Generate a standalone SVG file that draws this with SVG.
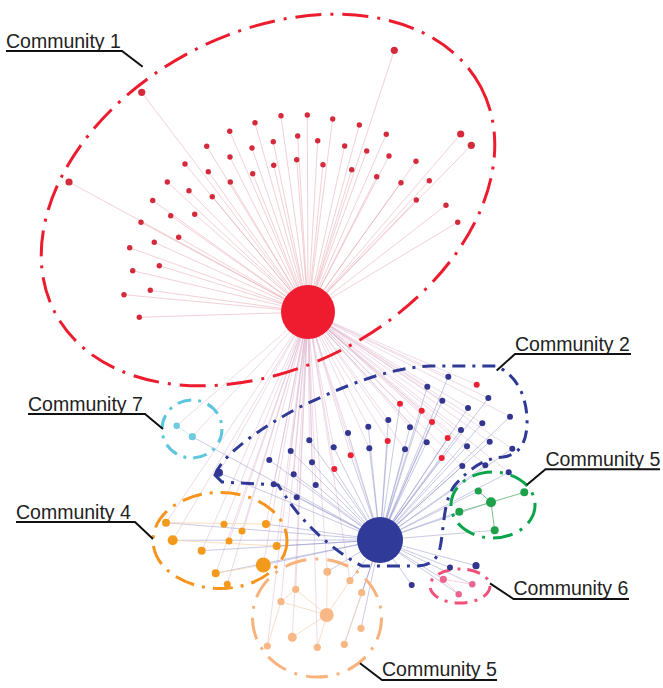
<svg xmlns="http://www.w3.org/2000/svg" width="663" height="688" viewBox="0 0 663 688">
<style>
.e1{stroke:#e9a7b0;stroke-width:0.8;opacity:0.65}
.e2{stroke:#d8a6c4;stroke-width:0.8;opacity:0.5}
.e3{stroke:#8e90c9;stroke-width:0.8;opacity:0.6}
.eg{stroke:#7cc08f;stroke-width:1}
.ep{stroke:#f6d6bd;stroke-width:0.8}
.eo{stroke:#f7d7b0;stroke-width:0.8}
.r{fill:#d42a3c}
.rb{fill:#ec2232}
.b{fill:#33368f}
.g{fill:#1fa14c}
.pk{fill:#e9668e}
.cy{fill:#6fcadf}
.o{fill:#f39a1d}
.pe{fill:#f8b886}
.hull{fill:none;stroke-width:3}
.lbl{font-family:"Liberation Sans",Arial,sans-serif;font-size:19.5px;fill:#222}
.ul{stroke:#111;stroke-width:2;fill:none}
</style>
<rect width="663" height="688" fill="#ffffff"/>
<g id="connectors">
<g id="edges-c1">
<line class="e1" x1="308" y1="312" x2="141.7" y2="92.3"/><line class="e1" x1="308" y1="312" x2="394.3" y2="50.3"/><line class="e1" x1="308" y1="312" x2="69" y2="182"/><line class="e1" x1="308" y1="312" x2="460.7" y2="134"/><line class="e1" x1="308" y1="312" x2="471.3" y2="145.3"/>
<line class="e1" x1="308" y1="312" x2="255" y2="122.7"/><line class="e1" x1="308" y1="312" x2="281" y2="115.7"/><line class="e1" x1="308" y1="312" x2="307.3" y2="115"/><line class="e1" x1="308" y1="312" x2="332.7" y2="119"/><line class="e1" x1="308" y1="312" x2="359.3" y2="125"/><line class="e1" x1="308" y1="312" x2="386.3" y2="134.3"/>
<line class="e1" x1="308" y1="312" x2="229.7" y2="131.3"/><line class="e1" x1="308" y1="312" x2="206.7" y2="146.3"/><line class="e1" x1="308" y1="312" x2="185" y2="164"/><line class="e1" x1="308" y1="312" x2="167.3" y2="182"/><line class="e1" x1="308" y1="312" x2="152.7" y2="200.5"/><line class="e1" x1="308" y1="312" x2="141" y2="222.3"/><line class="e1" x1="308" y1="312" x2="129.7" y2="247.7"/><line class="e1" x1="308" y1="312" x2="132.7" y2="270.7"/><line class="e1" x1="308" y1="312" x2="124" y2="294.7"/><line class="e1" x1="308" y1="312" x2="139.3" y2="317.3"/>
<line class="e1" x1="308" y1="312" x2="273.3" y2="141.7"/><line class="e1" x1="308" y1="312" x2="297.7" y2="136"/><line class="e1" x1="308" y1="312" x2="317.7" y2="140.7"/><line class="e1" x1="308" y1="312" x2="344.7" y2="146"/><line class="e1" x1="308" y1="312" x2="366.7" y2="151"/><line class="e1" x1="308" y1="312" x2="389" y2="156"/><line class="e1" x1="308" y1="312" x2="416" y2="161.3"/><line class="e1" x1="308" y1="312" x2="429.3" y2="180.7"/><line class="e1" x1="308" y1="312" x2="446" y2="205.3"/><line class="e1" x1="308" y1="312" x2="457.7" y2="222.3"/>
<line class="e1" x1="308" y1="312" x2="252" y2="148"/><line class="e1" x1="308" y1="312" x2="230" y2="157"/><line class="e1" x1="308" y1="312" x2="208.3" y2="171.7"/><line class="e1" x1="308" y1="312" x2="189" y2="190.7"/><line class="e1" x1="308" y1="312" x2="170.7" y2="215.7"/><line class="e1" x1="308" y1="312" x2="154.3" y2="242.3"/><line class="e1" x1="308" y1="312" x2="159.3" y2="265.7"/><line class="e1" x1="308" y1="312" x2="150.3" y2="290.3"/>
<line class="e1" x1="308" y1="312" x2="252.7" y2="173.7"/><line class="e1" x1="308" y1="312" x2="273.7" y2="165.3"/><line class="e1" x1="308" y1="312" x2="296.7" y2="159.7"/><line class="e1" x1="308" y1="312" x2="323" y2="164.7"/><line class="e1" x1="308" y1="312" x2="351.7" y2="169.7"/><line class="e1" x1="308" y1="312" x2="376.7" y2="176.7"/><line class="e1" x1="308" y1="312" x2="401" y2="182.7"/><line class="e1" x1="308" y1="312" x2="416.3" y2="200"/>
<line class="e1" x1="308" y1="312" x2="230.3" y2="182"/><line class="e1" x1="308" y1="312" x2="212.3" y2="196.7"/><line class="e1" x1="308" y1="312" x2="194.7" y2="214.3"/><line class="e1" x1="308" y1="312" x2="178.7" y2="237.3"/>
</g>
<g id="edges-red-hub-lower">
<line class="e2" x1="308" y1="312" x2="219" y2="472.7"/><line class="e2" x1="308" y1="312" x2="269.3" y2="460"/><line class="e2" x1="308" y1="312" x2="290.7" y2="451"/><line class="e2" x1="308" y1="312" x2="309.3" y2="440.3"/><line class="e2" x1="308" y1="312" x2="312" y2="462.3"/><line class="e2" x1="308" y1="312" x2="293.7" y2="474.3"/><line class="e2" x1="308" y1="312" x2="273.7" y2="484.3"/><line class="e2" x1="308" y1="312" x2="315.7" y2="485"/><line class="e2" x1="308" y1="312" x2="296.7" y2="497.3"/><line class="e2" x1="308" y1="312" x2="333.7" y2="447.3"/><line class="e2" x1="308" y1="312" x2="348" y2="433"/>
<line class="e2" x1="308" y1="312" x2="448.3" y2="376.7"/><line class="e2" x1="308" y1="312" x2="427.3" y2="386.7"/><line class="e2" x1="308" y1="312" x2="442.3" y2="400.7"/><line class="e2" x1="308" y1="312" x2="488.3" y2="398"/><line class="e2" x1="308" y1="312" x2="468" y2="408"/><line class="e2" x1="308" y1="312" x2="510" y2="416.7"/><line class="e2" x1="308" y1="312" x2="482.3" y2="423.3"/><line class="e2" x1="308" y1="312" x2="388.3" y2="420"/><line class="e2" x1="308" y1="312" x2="368.3" y2="426.7"/><line class="e2" x1="308" y1="312" x2="410" y2="427.3"/><line class="e2" x1="308" y1="312" x2="461" y2="430"/><line class="e2" x1="308" y1="312" x2="426.7" y2="442.3"/><line class="e2" x1="308" y1="312" x2="489.7" y2="441.7"/><line class="e2" x1="308" y1="312" x2="369.3" y2="448.3"/><line class="e2" x1="308" y1="312" x2="405" y2="449.3"/><line class="e2" x1="308" y1="312" x2="467" y2="446.3"/><line class="e2" x1="308" y1="312" x2="512.3" y2="448.7"/><line class="e2" x1="308" y1="312" x2="462.3" y2="466"/><line class="e2" x1="308" y1="312" x2="485.3" y2="465.3"/><line class="e2" x1="308" y1="312" x2="508.7" y2="472.3"/>
<line class="e2" x1="308" y1="312" x2="350.7" y2="455.3"/><line class="e2" x1="308" y1="312" x2="334.3" y2="469"/><line class="e2" x1="308" y1="312" x2="476.7" y2="384.7"/><line class="e2" x1="308" y1="312" x2="400" y2="403.7"/><line class="e2" x1="308" y1="312" x2="421.7" y2="410.7"/><line class="e2" x1="308" y1="312" x2="432" y2="422"/><line class="e2" x1="308" y1="312" x2="387.7" y2="441"/><line class="e2" x1="308" y1="312" x2="447.7" y2="438"/><line class="e2" x1="308" y1="312" x2="441.7" y2="458"/>
<line class="e2" x1="308" y1="312" x2="176.7" y2="425.7"/><line class="e2" x1="308" y1="312" x2="192.3" y2="436.7"/>
<line class="e2" x1="308" y1="312" x2="166" y2="522.7"/><line class="e2" x1="308" y1="312" x2="172.7" y2="540.3"/><line class="e2" x1="308" y1="312" x2="201.7" y2="550.7"/><line class="e2" x1="308" y1="312" x2="224" y2="524.3"/><line class="e2" x1="308" y1="312" x2="242" y2="531"/><line class="e2" x1="308" y1="312" x2="229" y2="541"/><line class="e2" x1="308" y1="312" x2="266" y2="524"/><line class="e2" x1="308" y1="312" x2="276.7" y2="546"/><line class="e2" x1="308" y1="312" x2="263.3" y2="565"/><line class="e2" x1="308" y1="312" x2="215.7" y2="573.3"/><line class="e2" x1="308" y1="312" x2="227.3" y2="584.3"/>
<line class="e2" x1="308" y1="312" x2="327.3" y2="571.7"/><line class="e2" x1="308" y1="312" x2="350" y2="580.7"/><line class="e2" x1="308" y1="312" x2="295.7" y2="589.3"/><line class="e2" x1="308" y1="312" x2="281" y2="601.7"/><line class="e2" x1="308" y1="312" x2="292.3" y2="637.3"/><line class="e2" x1="308" y1="312" x2="267.3" y2="646"/><line class="e2" x1="308" y1="312" x2="317.3" y2="647.3"/><line class="e2" x1="308" y1="312" x2="380" y2="540"/>
</g>
<g id="edges-blue-hub">
<line class="e3" x1="380" y1="540" x2="219" y2="472.7"/><line class="e3" x1="380" y1="540" x2="269.3" y2="460"/><line class="e3" x1="380" y1="540" x2="290.7" y2="451"/><line class="e3" x1="380" y1="540" x2="309.3" y2="440.3"/><line class="e3" x1="380" y1="540" x2="312" y2="462.3"/><line class="e3" x1="380" y1="540" x2="293.7" y2="474.3"/><line class="e3" x1="380" y1="540" x2="273.7" y2="484.3"/><line class="e3" x1="380" y1="540" x2="315.7" y2="485"/><line class="e3" x1="380" y1="540" x2="296.7" y2="497.3"/><line class="e3" x1="380" y1="540" x2="333.7" y2="447.3"/><line class="e3" x1="380" y1="540" x2="348" y2="433"/>
<line class="e3" x1="380" y1="540" x2="448.3" y2="376.7"/><line class="e3" x1="380" y1="540" x2="427.3" y2="386.7"/><line class="e3" x1="380" y1="540" x2="442.3" y2="400.7"/><line class="e3" x1="380" y1="540" x2="488.3" y2="398"/><line class="e3" x1="380" y1="540" x2="468" y2="408"/><line class="e3" x1="380" y1="540" x2="510" y2="416.7"/><line class="e3" x1="380" y1="540" x2="482.3" y2="423.3"/><line class="e3" x1="380" y1="540" x2="388.3" y2="420"/><line class="e3" x1="380" y1="540" x2="368.3" y2="426.7"/><line class="e3" x1="380" y1="540" x2="410" y2="427.3"/><line class="e3" x1="380" y1="540" x2="461" y2="430"/><line class="e3" x1="380" y1="540" x2="426.7" y2="442.3"/><line class="e3" x1="380" y1="540" x2="489.7" y2="441.7"/><line class="e3" x1="380" y1="540" x2="369.3" y2="448.3"/><line class="e3" x1="380" y1="540" x2="405" y2="449.3"/><line class="e3" x1="380" y1="540" x2="467" y2="446.3"/><line class="e3" x1="380" y1="540" x2="512.3" y2="448.7"/><line class="e3" x1="380" y1="540" x2="462.3" y2="466"/><line class="e3" x1="380" y1="540" x2="485.3" y2="465.3"/><line class="e3" x1="380" y1="540" x2="508.7" y2="472.3"/>
<line class="e3" x1="380" y1="540" x2="350.7" y2="455.3"/><line class="e3" x1="380" y1="540" x2="334.3" y2="469"/><line class="e3" x1="380" y1="540" x2="400" y2="403.7"/><line class="e3" x1="380" y1="540" x2="421.7" y2="410.7"/><line class="e3" x1="380" y1="540" x2="432" y2="422"/><line class="e3" x1="380" y1="540" x2="387.7" y2="441"/><line class="e3" x1="380" y1="540" x2="447.7" y2="438"/><line class="e3" x1="380" y1="540" x2="441.7" y2="458"/>
<line class="e3" x1="380" y1="540" x2="450" y2="567.5"/><line class="e3" x1="380" y1="540" x2="476" y2="565.7"/><line class="e3" x1="380" y1="540" x2="411.7" y2="585"/>
<line class="e3" x1="380" y1="540" x2="478.3" y2="491"/><line class="e3" x1="380" y1="540" x2="491" y2="502.3"/><line class="e3" x1="380" y1="540" x2="459.3" y2="511.7"/><line class="e3" x1="380" y1="540" x2="494.7" y2="530.3"/>
<line class="e3" x1="380" y1="540" x2="443.3" y2="579.3"/><line class="e3" x1="380" y1="540" x2="472.3" y2="584.3"/><line class="e3" x1="380" y1="540" x2="458.7" y2="594.3"/>
<line class="e3" x1="380" y1="540" x2="166" y2="522.7"/><line class="e3" x1="380" y1="540" x2="172.7" y2="540.3"/><line class="e3" x1="380" y1="540" x2="201.7" y2="550.7"/><line class="e3" x1="380" y1="540" x2="266" y2="524"/><line class="e3" x1="380" y1="540" x2="276.7" y2="546"/><line class="e3" x1="380" y1="540" x2="263.3" y2="565"/><line class="e3" x1="380" y1="540" x2="215.7" y2="573.3"/>
<line class="e3" x1="380" y1="540" x2="327.3" y2="571.7"/><line class="e3" x1="380" y1="540" x2="350" y2="580.7"/><line class="e3" x1="380" y1="540" x2="361.7" y2="592.7"/><line class="e3" x1="380" y1="540" x2="361" y2="628.3"/><line class="e3" x1="380" y1="540" x2="344.3" y2="644.3"/><line class="e3" x1="380" y1="540" x2="192.3" y2="436.7"/>
</g>
<g id="edges-local">
<line class="eg" x1="478.3" y1="491" x2="491" y2="502.3"/><line class="eg" x1="491" y1="502.3" x2="524.3" y2="492.3"/><line class="eg" x1="459.3" y1="511.7" x2="491" y2="502.3"/><line class="eg" x1="491" y1="502.3" x2="494.7" y2="530.3"/>
<line class="ep" x1="327.3" y1="571.7" x2="326.7" y2="615"/><line class="ep" x1="295.7" y1="589.3" x2="326.7" y2="615"/><line class="ep" x1="281" y1="601.7" x2="326.7" y2="615"/><line class="ep" x1="350" y1="580.7" x2="326.7" y2="615"/><line class="ep" x1="361.7" y1="592.7" x2="344.3" y2="644.3"/><line class="ep" x1="326.7" y1="615" x2="317.3" y2="647.3"/><line class="ep" x1="292.3" y1="637.3" x2="326.7" y2="615"/><line class="ep" x1="267.3" y1="646" x2="281" y2="601.7"/><line class="ep" x1="295.7" y1="589.3" x2="281" y2="601.7"/>
<line class="eo" x1="166" y1="522.7" x2="266" y2="524"/><line class="eo" x1="172.7" y1="540.3" x2="276.7" y2="546"/><line class="eo" x1="215.7" y1="573.3" x2="263.3" y2="565"/>
<line stroke="#bfe6ee" stroke-width="0.9" x1="176.7" y1="425.7" x2="192.3" y2="436.7"/>
<line stroke="#f6c4d2" stroke-width="0.8" x1="443.3" y1="579.3" x2="472.3" y2="584.3"/><line stroke="#f6c4d2" stroke-width="0.8" x1="443.3" y1="579.3" x2="458.7" y2="594.3"/>
</g>
</g>
<g id="hulls">
<ellipse id="hull-c1" class="hull" cx="268" cy="200" rx="241" ry="167" transform="rotate(-28 268 200)" stroke="#ec1c2e" stroke-dasharray="26 9 3 9"/>
<path id="hull-c2" class="hull" stroke="#2e3a96" stroke-dasharray="13 7 3 7" d="M 215,475 C 222,455 260,428 300,407 C 340,388 385,368 430,366 L 496,366 C 515,374 528,395 527,425 C 526,445 518,455 503,457 C 485,458 470,468 455,485 C 443,500 444,530 440,548 C 437,560 430,566 415,566 L 362,566 C 335,552 305,525 288,500 L 278,485 L 222,482 Z"/>
<ellipse id="hull-c7" class="hull" cx="192" cy="429" rx="30" ry="29" stroke="#5cc6de" stroke-width="2.6" stroke-dasharray="14 7 3 7"/>
<ellipse id="hull-c4" class="hull" cx="220" cy="540.5" rx="67" ry="48" stroke="#f7941d" stroke-dasharray="20 8 3 8"/>
<ellipse id="hull-c5b" class="hull" cx="317" cy="618" rx="64.5" ry="59" stroke="#f9b27c" stroke-dasharray="22 9 3 9"/>
<ellipse id="hull-c5g" class="hull" cx="493" cy="505" rx="42" ry="33" stroke="#0aa54a" stroke-dasharray="20 8 3 8"/>
<ellipse id="hull-c6" class="hull" cx="460" cy="586" rx="30" ry="17" stroke="#f0507a" stroke-width="2.6" stroke-dasharray="13 7 3 7"/>
</g>
<g id="community1">
<g id="hub-red"><circle cx="308" cy="312" r="27" fill="#ee1c2e"/></g>
<g id="c1-n01"><circle class="r" cx="141.7" cy="92.3" r="3.6"/></g>
<g id="c1-n02"><circle class="r" cx="394.3" cy="50.3" r="3.6"/></g>
<g id="c1-n03"><circle class="r" cx="69" cy="182" r="3.6"/></g>
<g id="c1-n04"><circle class="r" cx="460.7" cy="134" r="3.6"/></g>
<g id="c1-n05"><circle class="r" cx="471.3" cy="145.3" r="3.6"/></g>
<g id="c1-n06"><circle class="r" cx="255" cy="122.7" r="2.7"/></g>
<g id="c1-n07"><circle class="r" cx="281" cy="115.7" r="2.7"/></g>
<g id="c1-n08"><circle class="r" cx="307.3" cy="115" r="2.7"/></g>
<g id="c1-n09"><circle class="r" cx="332.7" cy="119" r="2.7"/></g>
<g id="c1-n10"><circle class="r" cx="359.3" cy="125" r="2.7"/></g>
<g id="c1-n11"><circle class="r" cx="386.3" cy="134.3" r="2.7"/></g>
<g id="c1-n12"><circle class="r" cx="229.7" cy="131.3" r="2.7"/></g>
<g id="c1-n13"><circle class="r" cx="206.7" cy="146.3" r="2.7"/></g>
<g id="c1-n14"><circle class="r" cx="185" cy="164" r="2.7"/></g>
<g id="c1-n15"><circle class="r" cx="167.3" cy="182" r="2.7"/></g>
<g id="c1-n16"><circle class="r" cx="152.7" cy="200.5" r="2.7"/></g>
<g id="c1-n17"><circle class="r" cx="141" cy="222.3" r="2.7"/></g>
<g id="c1-n18"><circle class="r" cx="129.7" cy="247.7" r="2.7"/></g>
<g id="c1-n19"><circle class="r" cx="132.7" cy="270.7" r="2.7"/></g>
<g id="c1-n20"><circle class="r" cx="124" cy="294.7" r="2.7"/></g>
<g id="c1-n21"><circle class="r" cx="139.3" cy="317.3" r="2.7"/></g>
<g id="c1-n22"><circle class="r" cx="273.3" cy="141.7" r="2.7"/></g>
<g id="c1-n23"><circle class="r" cx="297.7" cy="136" r="2.7"/></g>
<g id="c1-n24"><circle class="r" cx="317.7" cy="140.7" r="2.7"/></g>
<g id="c1-n25"><circle class="r" cx="344.7" cy="146" r="2.7"/></g>
<g id="c1-n26"><circle class="r" cx="366.7" cy="151" r="2.7"/></g>
<g id="c1-n27"><circle class="r" cx="389" cy="156" r="2.7"/></g>
<g id="c1-n28"><circle class="r" cx="416" cy="161.3" r="2.7"/></g>
<g id="c1-n29"><circle class="r" cx="429.3" cy="180.7" r="2.7"/></g>
<g id="c1-n30"><circle class="r" cx="446" cy="205.3" r="2.7"/></g>
<g id="c1-n31"><circle class="r" cx="457.7" cy="222.3" r="2.7"/></g>
<g id="c1-n32"><circle class="r" cx="252" cy="148" r="2.7"/></g>
<g id="c1-n33"><circle class="r" cx="230" cy="157" r="2.7"/></g>
<g id="c1-n34"><circle class="r" cx="208.3" cy="171.7" r="2.7"/></g>
<g id="c1-n35"><circle class="r" cx="189" cy="190.7" r="2.7"/></g>
<g id="c1-n36"><circle class="r" cx="170.7" cy="215.7" r="2.7"/></g>
<g id="c1-n37"><circle class="r" cx="154.3" cy="242.3" r="2.7"/></g>
<g id="c1-n38"><circle class="r" cx="159.3" cy="265.7" r="2.7"/></g>
<g id="c1-n39"><circle class="r" cx="150.3" cy="290.3" r="2.7"/></g>
<g id="c1-n40"><circle class="r" cx="252.7" cy="173.7" r="2.7"/></g>
<g id="c1-n41"><circle class="r" cx="273.7" cy="165.3" r="2.7"/></g>
<g id="c1-n42"><circle class="r" cx="296.7" cy="159.7" r="2.7"/></g>
<g id="c1-n43"><circle class="r" cx="323" cy="164.7" r="2.7"/></g>
<g id="c1-n44"><circle class="r" cx="351.7" cy="169.7" r="2.7"/></g>
<g id="c1-n45"><circle class="r" cx="376.7" cy="176.7" r="2.7"/></g>
<g id="c1-n46"><circle class="r" cx="401" cy="182.7" r="2.7"/></g>
<g id="c1-n47"><circle class="r" cx="416.3" cy="200" r="2.7"/></g>
<g id="c1-n48"><circle class="r" cx="230.3" cy="182" r="2.7"/></g>
<g id="c1-n49"><circle class="r" cx="212.3" cy="196.7" r="2.7"/></g>
<g id="c1-n50"><circle class="r" cx="194.7" cy="214.3" r="2.7"/></g>
<g id="c1-n51"><circle class="r" cx="178.7" cy="237.3" r="2.7"/></g>
</g>
<g id="community2">
<g id="hub-blue"><circle cx="380" cy="540" r="23" fill="#2f3a99"/></g>
<g id="c2-n01"><circle class="b" cx="219" cy="472.7" r="4"/></g>
<g id="c2-n02"><circle class="b" cx="269.3" cy="460" r="3"/></g>
<g id="c2-n03"><circle class="b" cx="290.7" cy="451" r="3"/></g>
<g id="c2-n04"><circle class="b" cx="309.3" cy="440.3" r="3"/></g>
<g id="c2-n05"><circle class="b" cx="312" cy="462.3" r="3"/></g>
<g id="c2-n06"><circle class="b" cx="293.7" cy="474.3" r="3"/></g>
<g id="c2-n07"><circle class="b" cx="273.7" cy="484.3" r="3"/></g>
<g id="c2-n08"><circle class="b" cx="315.7" cy="485" r="3"/></g>
<g id="c2-n09"><circle class="b" cx="296.7" cy="497.3" r="3"/></g>
<g id="c2-n10"><circle class="b" cx="333.7" cy="447.3" r="3"/></g>
<g id="c2-n11"><circle class="b" cx="348" cy="433" r="3"/></g>
<g id="c2-n12"><circle class="b" cx="448.3" cy="376.7" r="3"/></g>
<g id="c2-n13"><circle class="b" cx="427.3" cy="386.7" r="3"/></g>
<g id="c2-n14"><circle class="b" cx="442.3" cy="400.7" r="3"/></g>
<g id="c2-n15"><circle class="b" cx="488.3" cy="398" r="3"/></g>
<g id="c2-n16"><circle class="b" cx="468" cy="408" r="3"/></g>
<g id="c2-n17"><circle class="b" cx="510" cy="416.7" r="3"/></g>
<g id="c2-n18"><circle class="b" cx="482.3" cy="423.3" r="3"/></g>
<g id="c2-n19"><circle class="b" cx="388.3" cy="420" r="3"/></g>
<g id="c2-n20"><circle class="b" cx="368.3" cy="426.7" r="3"/></g>
<g id="c2-n21"><circle class="b" cx="410" cy="427.3" r="3"/></g>
<g id="c2-n22"><circle class="b" cx="461" cy="430" r="3"/></g>
<g id="c2-n23"><circle class="b" cx="426.7" cy="442.3" r="3"/></g>
<g id="c2-n24"><circle class="b" cx="489.7" cy="441.7" r="3"/></g>
<g id="c2-n25"><circle class="b" cx="369.3" cy="448.3" r="3"/></g>
<g id="c2-n26"><circle class="b" cx="405" cy="449.3" r="3"/></g>
<g id="c2-n27"><circle class="b" cx="467" cy="446.3" r="3"/></g>
<g id="c2-n28"><circle class="b" cx="512.3" cy="448.7" r="3"/></g>
<g id="c2-n29"><circle class="b" cx="462.3" cy="466" r="3"/></g>
<g id="c2-n30"><circle class="b" cx="485.3" cy="465.3" r="3"/></g>
<g id="c2-n31"><circle class="b" cx="508.7" cy="472.3" r="3"/></g>
<g id="c2-n32"><circle class="b" cx="450" cy="567.5" r="3"/></g>
<g id="c2-n33"><circle class="b" cx="476" cy="565.7" r="3.6"/></g>
<g id="c2-n34"><circle class="b" cx="411.7" cy="585" r="3"/></g>
<g id="c2-n35"><circle class="rb" cx="350.7" cy="455.3" r="3"/></g>
<g id="c2-n36"><circle class="rb" cx="334.3" cy="469" r="3"/></g>
<g id="c2-n37"><circle class="rb" cx="476.7" cy="384.7" r="3"/></g>
<g id="c2-n38"><circle class="rb" cx="400" cy="403.7" r="3"/></g>
<g id="c2-n39"><circle class="rb" cx="421.7" cy="410.7" r="3"/></g>
<g id="c2-n40"><circle class="rb" cx="432" cy="422" r="3"/></g>
<g id="c2-n41"><circle class="rb" cx="387.7" cy="441" r="3"/></g>
<g id="c2-n42"><circle class="rb" cx="447.7" cy="438" r="3"/></g>
<g id="c2-n43"><circle class="rb" cx="441.7" cy="458" r="3"/></g>
</g>
<g id="community5g">
<g id="c5g-n1"><circle class="g" cx="478.3" cy="491" r="3.6"/></g>
<g id="c5g-n2"><circle class="g" cx="491" cy="502.3" r="5"/></g>
<g id="c5g-n3"><circle class="g" cx="524.3" cy="492.3" r="4"/></g>
<g id="c5g-n4"><circle class="g" cx="459.3" cy="511.7" r="4"/></g>
<g id="c5g-n5"><circle class="g" cx="494.7" cy="530.3" r="4"/></g>
</g>
<g id="community6">
<g id="c6-n1"><circle class="pk" cx="443.3" cy="579.3" r="3.6"/></g>
<g id="c6-n2"><circle class="pk" cx="472.3" cy="584.3" r="3.2"/></g>
<g id="c6-n3"><circle class="pk" cx="458.7" cy="594.3" r="3.2"/></g>
</g>
<g id="community7">
<g id="c7-n1"><circle class="cy" cx="176.7" cy="425.7" r="3.2"/></g>
<g id="c7-n2"><circle class="cy" cx="192.3" cy="436.7" r="3.6"/></g>
</g>
<g id="community4">
<g id="c4-n01"><circle class="o" cx="166" cy="522.7" r="4"/></g>
<g id="c4-n02"><circle class="o" cx="172.7" cy="540.3" r="5"/></g>
<g id="c4-n03"><circle class="o" cx="201.7" cy="550.7" r="4"/></g>
<g id="c4-n04"><circle class="o" cx="224" cy="524.3" r="3.5"/></g>
<g id="c4-n05"><circle class="o" cx="242" cy="531" r="3.5"/></g>
<g id="c4-n06"><circle class="o" cx="229" cy="541" r="3.5"/></g>
<g id="c4-n07"><circle class="o" cx="266" cy="524" r="4"/></g>
<g id="c4-n08"><circle class="o" cx="276.7" cy="546" r="4"/></g>
<g id="c4-n09"><circle class="o" cx="263.3" cy="565" r="7.5"/></g>
<g id="c4-n10"><circle class="o" cx="215.7" cy="573.3" r="4"/></g>
<g id="c4-n11"><circle class="o" cx="227.3" cy="584.3" r="3.5"/></g>
</g>
<g id="community5b">
<g id="c5b-n01"><circle class="pe" cx="327.3" cy="571.7" r="4"/></g>
<g id="c5b-n02"><circle class="pe" cx="350" cy="580.7" r="3.6"/></g>
<g id="c5b-n03"><circle class="pe" cx="295.7" cy="589.3" r="3.6"/></g>
<g id="c5b-n04"><circle class="pe" cx="361.7" cy="592.7" r="3.6"/></g>
<g id="c5b-n05"><circle class="pe" cx="281" cy="601.7" r="3.6"/></g>
<g id="c5b-n06"><circle class="pe" cx="326.7" cy="615" r="7"/></g>
<g id="c5b-n07"><circle class="pe" cx="361" cy="628.3" r="3.6"/></g>
<g id="c5b-n08"><circle class="pe" cx="292.3" cy="637.3" r="4.5"/></g>
<g id="c5b-n09"><circle class="pe" cx="267.3" cy="646" r="3.6"/></g>
<g id="c5b-n10"><circle class="pe" cx="317.3" cy="647.3" r="3.6"/></g>
<g id="c5b-n11"><circle class="pe" cx="344.3" cy="644.3" r="3.6"/></g>
</g>
<g id="labels">
<g id="label-c1"><text class="lbl" x="6" y="47.5">Community 1</text><polyline class="ul" points="6,51 122,51 142.7,66.7"/></g>
<g id="label-c2"><text class="lbl" x="515" y="350.5">Community 2</text><polyline class="ul" points="631,354 515,354 496.7,370.5"/></g>
<g id="label-c7"><text class="lbl" x="28" y="410.5">Community 7</text><polyline class="ul" points="28,414 145,414 163,429"/></g>
<g id="label-c4"><text class="lbl" x="16" y="518.5">Community 4</text><polyline class="ul" points="16,522 135,522 153,539"/></g>
<g id="label-c5g"><text class="lbl" x="545.5" y="465.5">Community 5</text><polyline class="ul" points="660,469.3 545.5,469.3 526.7,485"/></g>
<g id="label-c6"><text class="lbl" x="513.5" y="595">Community 6</text><polyline class="ul" points="629,599 513.5,599 490,583.3"/></g>
<g id="label-c5b"><text class="lbl" x="382" y="676">Community 5</text><polyline class="ul" points="497,680 382,680 360,663.3"/></g>
</g>
</svg>
